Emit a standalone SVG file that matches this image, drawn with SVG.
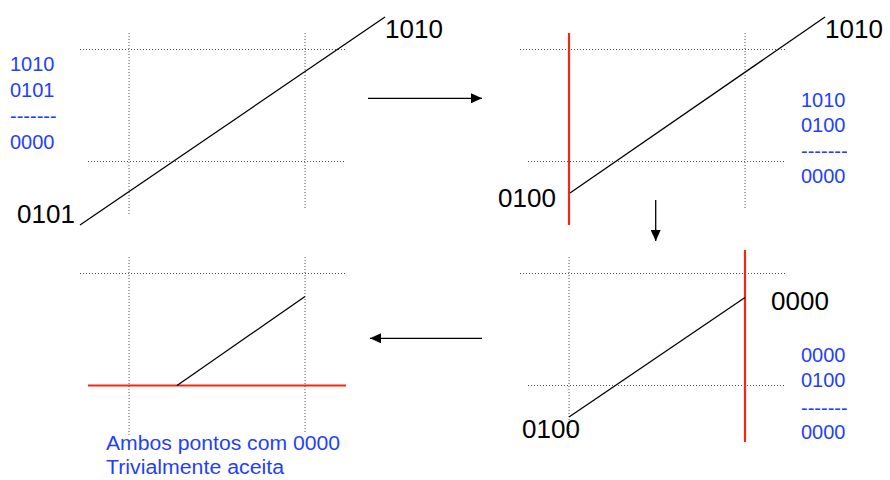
<svg xmlns="http://www.w3.org/2000/svg" width="890" height="480" viewBox="0 0 890 480">
<style>
.dot{stroke:#555;stroke-width:1;stroke-dasharray:1,2;fill:none}
.seg{stroke:#000;stroke-width:1.3;fill:none}
.red{stroke:#f02a10;stroke-width:2.2;fill:none}
.lbl{font-family:"Liberation Sans",Arial,sans-serif;font-size:26px;fill:#000}
.blu{font-family:"Liberation Sans",Arial,sans-serif;font-size:20px;fill:#1f3fff}
.arr{stroke:#000;stroke-width:1.3;fill:none;marker-end:url(#ah)}
</style>
<defs>
<marker id="ah" markerUnits="userSpaceOnUse" markerWidth="12" markerHeight="10" refX="11" refY="5" orient="auto">
<path d="M0,0 L11,5 L0,10 Z" fill="#000"/>
</marker>
</defs>
<rect width="890" height="480" fill="#fff"/>

<g id="panel1">
<line class="dot" x1="80" y1="49.5" x2="345" y2="49.5"/>
<line class="dot" x1="88" y1="161.5" x2="345" y2="161.5"/>
<line class="dot" x1="129" y1="33" x2="129" y2="215"/>
<line class="dot" x1="305" y1="33" x2="305" y2="208"/>
<line class="seg" x1="80" y1="225" x2="385" y2="17"/>
<text class="lbl" x="385" y="38">1010</text>
<text class="lbl" x="17" y="223">0101</text>
<text class="blu" x="10" y="71">1010</text>
<text class="blu" x="10" y="97">0101</text>
<text class="blu" x="10" y="122.5">-------</text>
<text class="blu" x="10" y="149">0000</text>
</g>

<g id="panel2">
<line class="dot" x1="520" y1="49.5" x2="785" y2="49.5"/>
<line class="dot" x1="528" y1="161.5" x2="785" y2="161.5"/>
<line class="dot" x1="569" y1="33" x2="569" y2="215"/>
<line class="dot" x1="745" y1="33" x2="745" y2="208"/>
<line class="red" x1="569" y1="33" x2="569" y2="225"/>
<line class="seg" x1="570" y1="193" x2="825" y2="17"/>
<text class="lbl" x="825" y="38">1010</text>
<text class="lbl" x="498" y="207">0100</text>
<text class="blu" x="801" y="107">1010</text>
<text class="blu" x="801" y="132">0100</text>
<text class="blu" x="801" y="157.5">-------</text>
<text class="blu" x="801" y="183">0000</text>
</g>

<g id="panel3">
<line class="dot" x1="520" y1="273.5" x2="785" y2="273.5"/>
<line class="dot" x1="528" y1="385.5" x2="785" y2="385.5"/>
<line class="dot" x1="569" y1="257" x2="569" y2="440"/>
<line class="dot" x1="745" y1="257" x2="745" y2="432"/>
<line class="red" x1="745" y1="250" x2="745" y2="442"/>
<line class="seg" x1="569" y1="417" x2="745" y2="297.5"/>
<text class="lbl" x="771" y="310">0000</text>
<text class="lbl" x="522" y="438">0100</text>
<text class="blu" x="801" y="362">0000</text>
<text class="blu" x="801" y="387">0100</text>
<text class="blu" x="801" y="414.5">-------</text>
<text class="blu" x="801" y="439">0000</text>
</g>

<g id="panel4">
<line class="dot" x1="80" y1="273.5" x2="346" y2="273.5"/>
<line class="dot" x1="129" y1="257" x2="129" y2="437"/>
<line class="dot" x1="305" y1="257" x2="305" y2="433"/>
<line class="red" x1="88" y1="385.5" x2="346" y2="385.5"/>
<line class="seg" x1="177" y1="385.5" x2="305" y2="296.5"/>
<text class="blu" x="106" y="450" textLength="234" lengthAdjust="spacingAndGlyphs">Ambos pontos com 0000</text>
<text class="blu" x="106" y="474" textLength="178" lengthAdjust="spacingAndGlyphs">Trivialmente aceita</text>
</g>

<g id="connectors">
<line class="arr" x1="368" y1="98.3" x2="482" y2="98.3"/>
<line class="arr" x1="655.7" y1="200" x2="655.7" y2="241"/>
<line class="arr" x1="482" y1="338.3" x2="370" y2="338.3"/>
</g>
</svg>
